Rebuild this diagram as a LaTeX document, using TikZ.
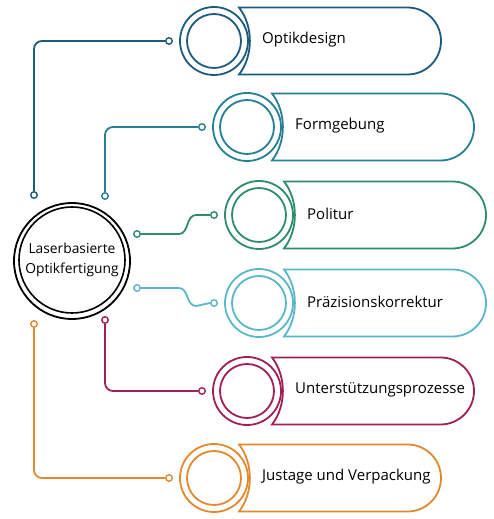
\documentclass[tikz,border=0pt]{standalone}
\usepackage{fontspec}
\setmainfont{Open Sans}
\definecolor{cA}{HTML}{1D5A7B}
\definecolor{cB}{HTML}{267F93}
\definecolor{cC}{HTML}{2E8B6E}
\definecolor{cD}{HTML}{5BB6C6}
\definecolor{cE}{HTML}{A01F55}
\definecolor{cF}{HTML}{E0892F}
\tikzset{
  dotnode/.style={circle, draw=#1, fill=white, line width=1.4pt, minimum size=6.5pt, inner sep=0pt},
  conn/.style={draw=#1, line width=1.8pt, rounded corners=8pt},
  label/.style={anchor=west, font=\fontsize{15}{17}\selectfont, text=black, inner sep=0pt},
}
\newcommand{\steprow}[5]{% cx, Y, color, text, name
  \draw[#3, line width=1.8pt] (#1,#2) circle[radius=34pt];
  \node[circle, draw=#3, line width=1.8pt, minimum size=54pt, inner sep=0pt] (#5) at (#1,#2) {};
  \draw[#3, line width=1.8pt, line join=miter]
    (#1+25,#2+33.5) -- (#1+193.5,#2+33.5)
    arc[start angle=90, end angle=-90, radius=33.5pt]
    -- (#1+25,#2-33.5)
    .. controls (#1+39.5,#2-15) and (#1+39.5,#2+15) .. cycle;
  \node[label] (#5t) at (#1+48,#2+1) {#4};
  \node[dotnode=#3] (#5d) at (#1-45,#2) {};
}
\begin{document}
\begin{tikzpicture}[x=1pt,y=1pt]
\useasboundingbox (0,0) rectangle (494,519);
% center
\draw[black, line width=1.8pt] (72,258) circle[radius=58pt];
\node[circle, draw=black, line width=1.6pt, minimum size=106pt, inner sep=0pt,
  align=center, font=\fontsize{13.8}{19.5}\selectfont] (center) at (72,259)
  {Laserbasierte\\Optikfertigung};
% rows
\steprow{214}{478}{cA}{Optikdesign}{r1}
\steprow{247}{392}{cB}{Formgebung}{r2}
\steprow{259}{304}{cC}{Politur}{r3}
\steprow{259}{216}{cD}{Präzisionskorrektur}{r4}
\steprow{247}{128}{cE}{Unterstützungsprozesse}{r5}
\steprow{214}{41}{cF}{Justage und Verpackung}{r6}
% inner dots
\node[dotnode=cA] (s1) at (34,324) {};
\node[dotnode=cB] (s2) at (105,323) {};
\node[dotnode=cC] (s3) at (137,285) {};
\node[dotnode=cD] (s4) at (137,231) {};
\node[dotnode=cE] (s5) at (105,199) {};
\node[dotnode=cF] (s6) at (34,195) {};
% connectors
\draw[conn=cA] (s1) |- (r1d);
\draw[conn=cB] (s2) |- (r2d);
\draw[conn=cE] (s5) |- (r5d);
\draw[conn=cF] (s6) |- (r6d);
\draw[conn=cC, rounded corners=0pt] (s3.east) -- ++(38,0) to[out=0,in=180] ++(17,19) -- (r3d.west);
\draw[conn=cD, rounded corners=0pt] (s4.east) -- ++(38,0) to[out=0,in=180] ++(17,-18) -- (r4d.west);
\end{tikzpicture}
\end{document}
